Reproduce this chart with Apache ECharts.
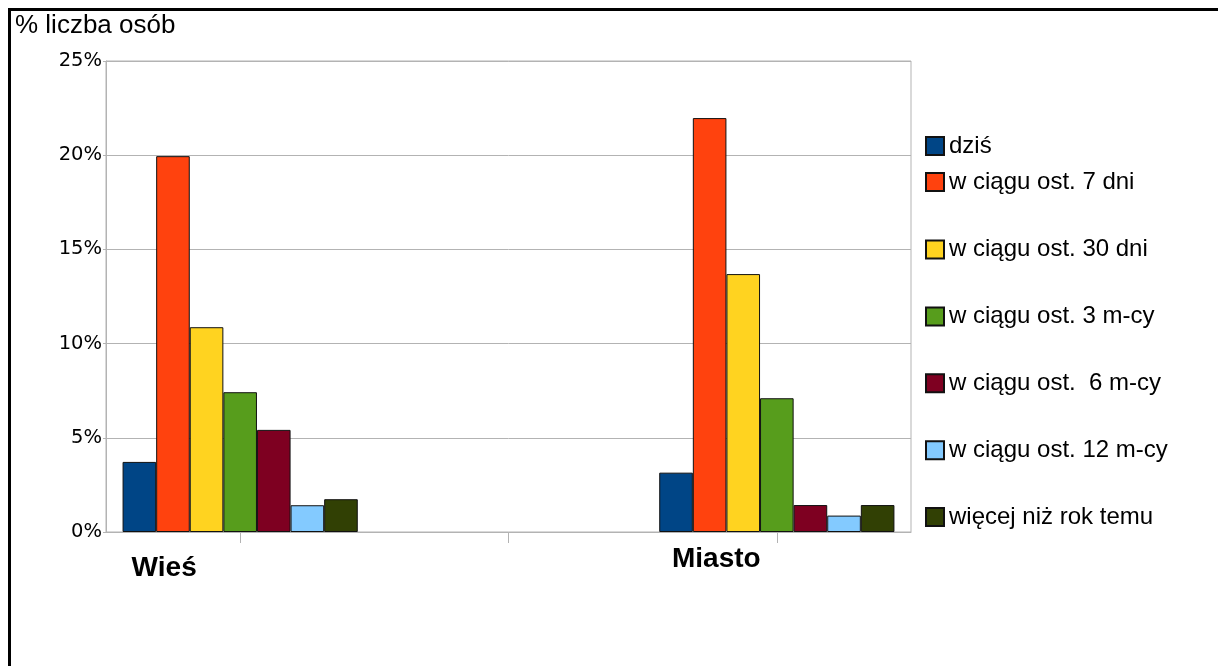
<!DOCTYPE html>
<html>
<head>
<meta charset="utf-8">
<script src="https://cdn.jsdelivr.net/npm/echarts@6/dist/echarts.min.js"></script>
<style>
html,body{margin:0;padding:0;background:#fff;}
#c{width:1218px;height:666px;}
</style>
</head>
<body>
<div id="c"></div>
<script>
var categories = ['Wieś', '', 'Miasto'];
var seriesNames = ['dziś', 'w ciągu ost. 7 dni', 'w ciągu ost. 30 dni', 'w ciągu ost. 3 m-cy', 'w ciągu ost.  6 m-cy', 'w ciągu ost. 12 m-cy', 'więcej niż rok temu'];
var colors = ['#004586', '#ff420e', '#ffd320', '#579d1c', '#7e0021', '#83caff', '#314004'];
var dzis = [3.72, null, 3.15];
var dni7 = [19.95, null, 21.97];
var dni30 = [10.87, null, 13.69];
var mcy3 = [7.42, null, 7.10];
var mcy6 = [5.42, null, 1.43];
var mcy12 = [1.42, null, 0.87];
var wiecej = [1.74, null, 1.43];
var yTicks = [0, 5, 10, 15, 20, 25];
var yAxisTitle = '% liczba osób';

var values = [dzis, dni7, dni30, mcy3, mcy6, mcy12, wiecej];
var font = 'Liberation Sans, Arial, sans-serif';

var chart = echarts.init(document.getElementById('c'), null, {renderer: 'canvas'});
var series = seriesNames.map(function (n, i) {
  return {
    name: n,
    type: 'bar',
    data: values[i],
    barWidth: 33.6,
    barGap: '0%',
    itemStyle: {color: colors[i], borderColor: '#111', borderWidth: 1},
    emphasis: {disabled: true}
  };
});

var legendText = {fontFamily: font, fontSize: 24, color: '#000', lineHeight: 22};

chart.setOption({
  animation: false,
  backgroundColor: '#fff',
  graphic: [
    {type: 'rect', shape: {x: 9.5, y: 9.5, width: 1400, height: 1000}, style: {fill: null, stroke: '#000', lineWidth: 3}, z: 100},
    {type: 'text', left: 15, top: 13, style: {text: yAxisTitle, font: '26px ' + font, fill: '#000'}}
  ],
  legend: [
    {
      orient: 'vertical', left: 925, top: 134, padding: 0,
      itemWidth: 18, itemHeight: 18, itemGap: 12, itemTextGap: 10,
      icon: 'rect',
      data: seriesNames.slice(0, 2),
      textStyle: legendText,
      selectedMode: false
    },
    {
      orient: 'vertical', left: 925, top: 237.5, padding: 0,
      itemWidth: 18, itemHeight: 18, itemGap: 42.9, itemTextGap: 10,
      icon: 'rect',
      data: seriesNames.slice(2),
      textStyle: legendText,
      selectedMode: false
    }
  ],
  grid: {left: 106, top: 61, right: 307, bottom: 134, show: true, borderColor: '#b3b3b3', borderWidth: 1, containLabel: false},
  xAxis: {
    type: 'category',
    data: categories,
    boundaryGap: true,
    axisLine: {lineStyle: {color: '#b3b3b3', width: 1}},
    axisTick: {show: true, alignWithLabel: true, length: 11, lineStyle: {color: '#b3b3b3'}},
    axisLabel: {
      interval: 0,
      margin: 13,
      formatter: function (v) {
        if (v === categories[0]) return '{w|' + v + '}';
        if (v === categories[2]) return '{m|' + v + '}';
        return '';
      },
      rich: {
        w: {fontFamily: font, fontWeight: 'bold', fontSize: 28, color: '#000', lineHeight: 28, padding: [18, 152, 0, 0]},
        m: {fontFamily: font, fontWeight: 'bold', fontSize: 28, color: '#000', lineHeight: 28, padding: [0, 121, 0, 0]}
      }
    }
  },
  yAxis: {
    type: 'value',
    min: 0, max: 25, interval: 5,
    axisLine: {show: true, lineStyle: {color: '#b3b3b3'}},
    axisTick: {show: true, length: 3, lineStyle: {color: '#b3b3b3'}},
    splitLine: {lineStyle: {color: '#b3b3b3'}},
    axisLabel: {
      margin: 4,
      fontFamily: 'DejaVu Sans, sans-serif', fontSize: 19.5, color: '#000',
      formatter: function (v) { return yTicks.indexOf(v) >= 0 ? v + '%' : ''; }
    }
  },
  series: series
});
</script>
</body>
</html>
